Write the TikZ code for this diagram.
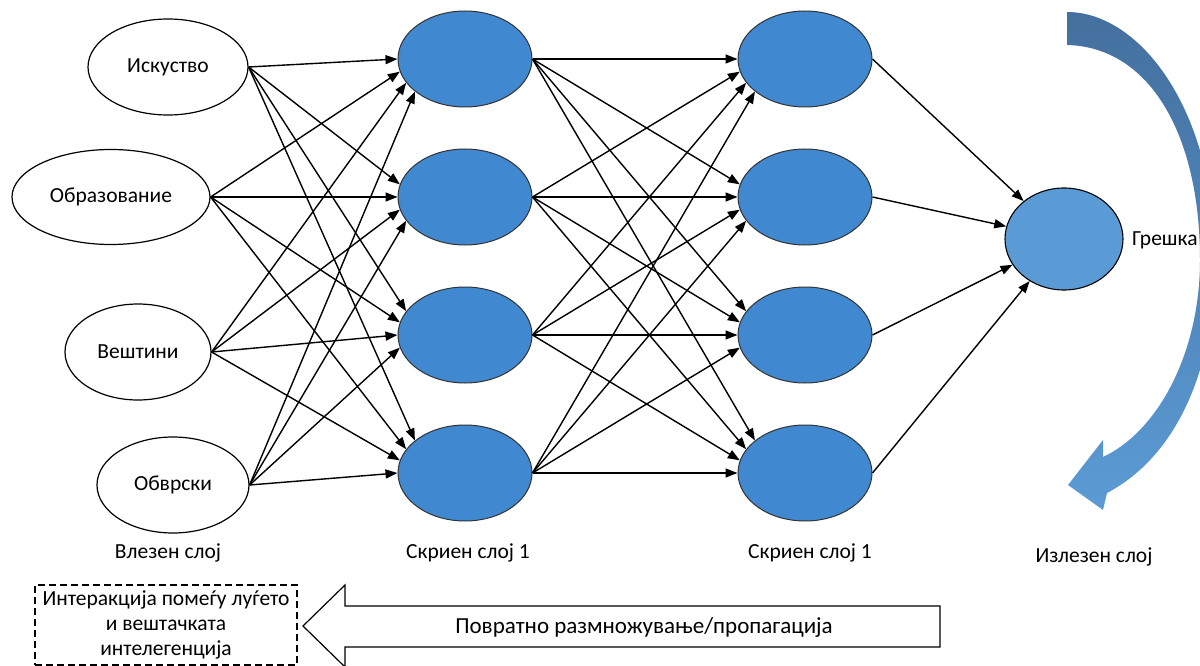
\documentclass[tikz,border=0pt]{standalone}
\usepackage{fontspec}
\setmainfont{Carlito}
\usetikzlibrary{shapes.geometric,arrows.meta}
\definecolor{hidblue}{HTML}{4088D0}
\definecolor{outblue}{HTML}{5B9BD5}
\definecolor{arctop}{HTML}{44709E}
\definecolor{arcbot}{HTML}{5B9BD5}
\tikzset{
  inp/.style={ellipse, draw, line width=1.2pt, fill=white, inner sep=0pt, font=\fontsize{21.5}{24}\selectfont},
  hid/.style={ellipse, draw=black!80, line width=1pt, fill=hidblue, minimum width=134pt, minimum height=96pt, inner sep=0pt},
  outn/.style={ellipse, draw, line width=1.1pt, fill=outblue, minimum width=118pt, minimum height=102pt, inner sep=0pt},
  conn/.style={line width=1.4pt, -{Triangle[length=12pt,width=9pt]}},
  lbl/.style={font=\fontsize{21.5}{24}\selectfont, inner sep=0pt},
}
\begin{document}
\begin{tikzpicture}[x=1pt,y=-1pt]
\useasboundingbox (0,0) rectangle (1200,666);
\clip (0,0) rectangle (1200,666);
% curved arrow
\shade[top color=arctop, bottom color=arcbot]
  (1067,12) .. controls (1140,12) and (1215,110) .. (1215,260)
  .. controls (1215,380) and (1170,460) .. (1107,493)
  -- (1103,510) -- (1068,485) -- (1103,440) -- (1103,457)
  .. controls (1160,430) and (1200,350) .. (1200,260)
  .. controls (1200,135) and (1150,47) .. (1067,45) -- cycle;
% input nodes
\node[inp, minimum width=160pt, minimum height=96pt] (i1) at (168,67) {Искуство};
\node[inp, minimum width=198pt, minimum height=95pt] (i2) at (111,197) {Образование};
\node[inp, minimum width=146pt, minimum height=96pt] (i3) at (138,352) {Вештини};
\node[inp, minimum width=152pt, minimum height=96pt] (i4) at (173,485) {Обврски};
% hidden layer 1
\node[hid] (a1) at (465,59) {};
\node[hid] (a2) at (465,197) {};
\node[hid] (a3) at (465,335) {};
\node[hid] (a4) at (465,473) {};
% hidden layer 2
\node[hid] (b1) at (805,59) {};
\node[hid] (b2) at (805,197) {};
\node[hid] (b3) at (805,335) {};
\node[hid] (b4) at (805,473) {};
% output
\node[outn] (o) at (1064,239) {};
\node[lbl, anchor=west] (err) at (1132,240) {Грешка};
% connectors
\foreach \s in {1,...,4}{
  \foreach \t in {1,...,4}{
    \pgfmathtruncatemacro\ang{180+11*(\s-\t)}
    \draw[conn] (i\s.east) -- (a\t.\ang);
    \draw[conn] (a\s.east) -- (b\t.\ang);
  }
}
\foreach \s in {1,...,4}{
  \draw[conn] (b\s.east) -- (o);
}
% layer labels
\node[lbl] (l1) at (168,553) {Влезен слој};
\node[lbl] (l2) at (468,553) {Скриен слој 1};
\node[lbl] (l3) at (810,553) {Скриен слој 1};
\node[lbl] (l4) at (1094,557) {Излезен слој};
% bottom box
\node[draw, dash pattern=on 7pt off 4pt, line width=2pt, minimum width=262pt, minimum height=80pt, inner sep=0pt,
      align=center, font=\fontsize{21.5}{25}\selectfont] (box) at (166,625)
  {Интеракција помеѓу луѓето\\и вештачката\\интелегенција};
% big left arrow
\draw[line width=1.2pt, fill=white]
  (940,606) -- (345,606) -- (345,585) -- (303,626) -- (345,667) -- (345,647) -- (940,647) -- cycle;
\node[lbl, font=\fontsize{23}{26}\selectfont] (bp) at (644,627) {Повратно размножување/пропагација};
\end{tikzpicture}
\end{document}
